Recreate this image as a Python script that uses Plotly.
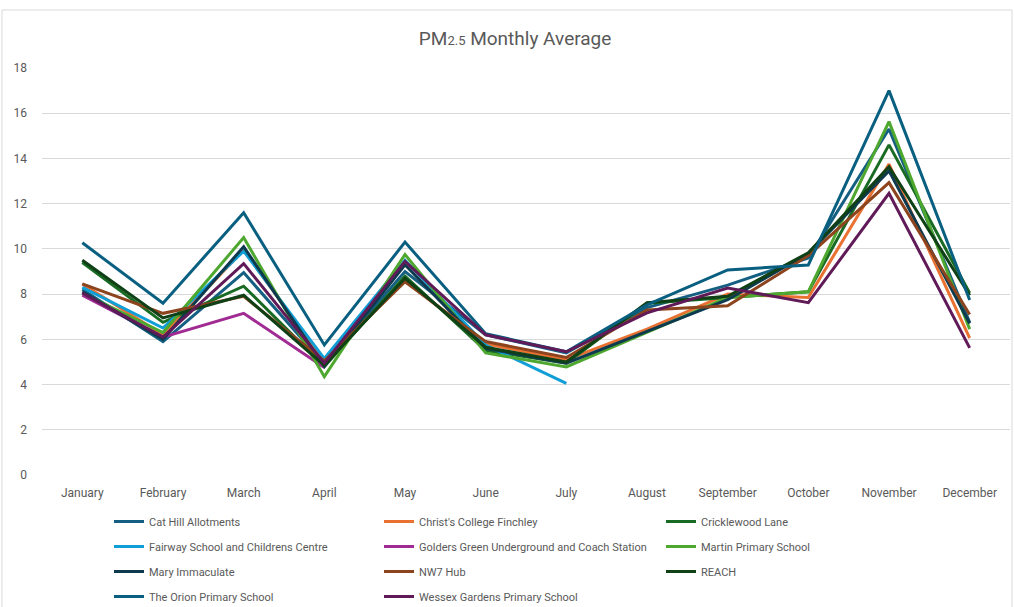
import plotly.graph_objects as go

months = ["January", "February", "March", "April", "May", "June", "July",
          "August", "September", "October", "November", "December"]

series_names = [
    "Cat Hill Allotments", "Christ's College Finchley", "Cricklewood Lane",
    "Fairway School and Childrens Centre", "Golders Green Underground and Coach Station",
    "Martin Primary School", "Mary Immaculate", "NW7 Hub", "REACH",
    "The Orion Primary School", "Wessex Gardens Primary School",
]

cat_hill = [8.2, 5.9, 8.95, 4.9, 9.0, 6.2, 5.4, 7.4, 8.4, 9.6, 15.3, 6.75]
christs = [8.45, 6.2, 9.95, 5.0, 8.6, 5.8, 5.1, 6.45, 8.0, 7.85, 13.75, 6.05]
cricklewood = [9.4, 6.75, 8.35, 4.8, 8.8, 5.5, 4.95, 7.6, 7.85, 8.1, 14.6, 8.05]
fairway = [8.3, 6.5, 9.9, 5.15, 9.5, 5.75, 4.05, None, None, None, None, None]
golders = [7.95, 6.1, 7.15, 4.75, None, None, None, None, None, None, None, None]
martin = [8.05, 6.3, 10.5, 4.35, 9.75, 5.4, 4.78, 6.3, 7.85, 8.1, 15.63, 6.45]
mary = [8.1, 6.0, 10.1, 4.8, 9.3, 5.6, 4.95, 6.35, 7.75, 9.8, 13.45, 6.7]
nw7 = [8.45, 7.15, 7.9, 5.05, 8.55, 5.9, 5.2, 7.3, 7.48, 9.7, 12.93, 7.1]
reach = [9.5, 6.95, 7.95, 4.85, 8.7, 5.65, 5.0, 7.62, 7.9, 9.83, 13.63, 7.95]
orion = [10.27, 7.6, 11.6, 5.75, 10.3, 6.25, 5.45, 7.52, 9.07, 9.29, 17.0, 7.74]
wessex = [8.05, 6.1, 9.35, 4.95, 9.45, 6.2, 5.45, 7.17, 8.27, 7.62, 12.46, 5.62]

colors = ["#156082", "#E97132", "#196B24", "#0F9ED5", "#A02B93", "#4EA72E",
          "#0D3A4E", "#8C441E", "#0F4016", "#095F80", "#601A58"]

all_values = [cat_hill, christs, cricklewood, fairway, golders, martin,
              mary, nw7, reach, orion, wessex]

y_ticks = [0, 2, 4, 6, 8, 10, 12, 14, 16, 18]

font_family = "Roboto, Arial, sans-serif"
text_color = "#595959"

legend_ids = ["legend", "legend2", "legend3"]

fig = go.Figure()
for i, (name, vals, col) in enumerate(zip(series_names, all_values, colors)):
    fig.add_trace(go.Scatter(
        x=months, y=vals, name=name, mode="lines",
        line=dict(color=col, width=3), connectgaps=False,
        legend=legend_ids[i % 3], legendgroup=name,
    ))

plot_w, plot_h = 968, 407


def legend_box(px_left):
    return dict(
        orientation="v", x=px_left / plot_w, xanchor="left",
        y=-32 / plot_h, yanchor="top", bgcolor="rgba(0,0,0,0)",
        font=dict(size=11, color=text_color, family=font_family),
        tracegroupgap=6, itemwidth=30,
    )


fig.update_layout(
    width=1014, height=607,
    paper_bgcolor="white", plot_bgcolor="white",
    margin=dict(l=42, r=4, t=68, b=132, autoexpand=False),
    font=dict(family=font_family, color=text_color, size=12),
    title=dict(
        text="PM<span style='font-size:13px'>2.5</span> Monthly Average",
        x=0.508, xanchor="center", y=1 - 38 / 607, yanchor="middle",
        font=dict(size=19, color=text_color, family=font_family),
    ),
    xaxis=dict(
        type="category", range=[-0.5, 11.5], showgrid=False,
        showline=False, ticks="", tickfont=dict(size=12, color=text_color),
        zeroline=False, ticklabelstandoff=9,
    ),
    yaxis=dict(
        range=[0, 18], tickvals=y_ticks, showgrid=True, gridcolor="#D9D9D9",
        gridwidth=1, zeroline=False, showline=False, ticks="",
        tickfont=dict(size=12, color=text_color), ticklabelstandoff=14,
    ),
    legend=legend_box(67),
    legend2=legend_box(337),
    legend3=legend_box(619),
    showlegend=True,
    shapes=[dict(type="rect", xref="paper", yref="paper",
                 x0=-40 / plot_w, x1=1 + 2 / plot_w,
                 y0=-150 / plot_h, y1=1 + 58 / plot_h,
                 line=dict(color="#D9D9D9", width=1))],
)

fig.write_html("out.html", config={"displayModeBar": False},
               post_script="document.body.style.margin='0px';")
